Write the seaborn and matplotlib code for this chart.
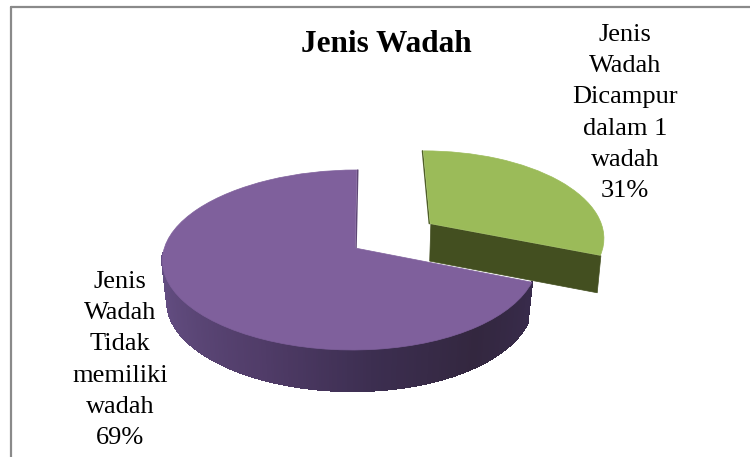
import matplotlib
matplotlib.use("Agg")
import numpy as np
import matplotlib.pyplot as plt
import seaborn as sns
from matplotlib.collections import PolyCollection
from matplotlib.colors import LinearSegmentedColormap
from matplotlib.lines import Line2D
from matplotlib.transforms import Transform

categories = ["Tidak\nmemiliki\nwadah", "Dicampur\ndalam 1\nwadah"]
shares = [69, 31]
series_name = "Jenis\nWadah"
title = "Jenis Wadah"
top_colors = ["#7f609c", "#9bbb59"]

W, H = 750, 457
sns.set_theme(style="white")
plt.rcParams["font.family"] = ["Liberation Serif", "DejaVu Serif"]


class TiltedDisc(Transform):
    """Projects the pie plane onto a tilted disc, in pixel coordinates."""
    input_dims = output_dims = 2

    def __init__(self, drop=0.0, squeeze=1.0):
        super().__init__()
        self.drop = drop
        self.squeeze = squeeze

    def transform_non_affine(self, xy):
        xy = np.asarray(xy, float)
        u, v = xy[:, 0], xy[:, 1]
        s = 1.0 / (1.0 + 0.133 * v)
        px = 186.0 * u * s * (1.0 - 0.025 * u) + 2.0 * v * s
        py = 88.4 * v * s
        return np.column_stack((355.0 + px * self.squeeze, 248.0 - py + self.drop))


fig = plt.figure(figsize=(W / 100, H / 100), dpi=100, facecolor="white")
ax = fig.add_axes([0, 0, 1, 1])

wedges, _ = ax.pie(shares, startangle=90, counterclock=True, colors=top_colors,
                   explode=[0, 0.51], radius=1.0, frame=False)
ax.set_aspect("auto")
ax.set_xlim(0, W)
ax.set_ylim(H, 0)
ax.axis("off")

# grey frame along the top and left of the chart area
for xs, ys in (([10.5, W], [7, 7]), ([10.5, 10.5], [7, H])):
    ax.add_line(Line2D(xs, ys, color="#8a8a8a", lw=1.6, zorder=1))

top = TiltedDisc()
base = TiltedDisc(drop=41.0, squeeze=0.975)
slice_base = TiltedDisc(drop=37.0, squeeze=0.985)


def arc(wedge, t1, t2, n=160):
    th = np.radians(np.linspace(t1, t2, n))
    cx, cy = wedge.center
    return np.column_stack((cx + wedge.r * np.cos(th), cy + wedge.r * np.sin(th)))


def strips(pts):
    upper = top.transform(pts)
    lower = base.transform(pts)
    return [[upper[i], upper[i + 1], lower[i + 1], lower[i]] for i in range(len(pts) - 1)]


# curved outer wall, shaded from left to right
wall_cmap = LinearSegmentedColormap.from_list(
    "wall", ["#665087", "#5d4879", "#503c68", "#3c2e50", "#33273f", "#382b4b"])
p = wedges[0]
purple_wall = strips(arc(p, 183, p.theta2, 220))
shades = np.linspace(0, 1, len(purple_wall))
ax.add_collection(PolyCollection(purple_wall, facecolors=wall_cmap(shades),
                                 edgecolors=wall_cmap(shades), linewidths=1.0,
                                 antialiaseds=False, zorder=2))

# front cut face of the separated slice
g = wedges[1]
apex = np.array([g.center])
rim = arc(g, g.theta1, g.theta1, 2)[:1]
far_rim = arc(g, g.theta2, g.theta2, 2)[:1]
face = [top.transform(apex)[0], top.transform(rim)[0],
        slice_base.transform(rim)[0], slice_base.transform(apex)[0]]
ax.add_collection(PolyCollection([face], facecolors="#434f20", edgecolors="#434f20",
                                 linewidths=0.5, zorder=2))

for w in wedges:
    w.set_transform(top + ax.transData)
    w.set_zorder(3)
    w.set_edgecolor(w.get_facecolor())
    w.set_linewidth(0.5)

# thin dark edges where the inner walls just show
for start, end, colour in ((apex, far_rim, "#4f5f28"),
                           (np.array([p.center]), arc(p, p.theta1, p.theta1, 2)[:1], "#5e4775")):
    a, b = top.transform(start)[0], top.transform(end)[0]
    side = 1 if colour == "#5e4775" else -1
    ax.add_line(Line2D([a[0] + side, b[0] + side], [a[1], b[1]], color=colour, lw=1.1, zorder=2.5))

ax.text(386, 45, title, ha="center", va="center", fontsize=22.5, fontweight="bold", color="black")


def label(x, y, text):
    ax.text(x, y, text, ha="center", va="top", fontsize=19, color="black", linespacing=1.54)


label(625, 24, f"{series_name}\n{categories[1]}\n{shares[1]}%")
label(120, 271, f"{series_name}\n{categories[0]}\n{shares[0]}%")

fig.savefig("out.png", dpi=100, facecolor=fig.get_facecolor())
